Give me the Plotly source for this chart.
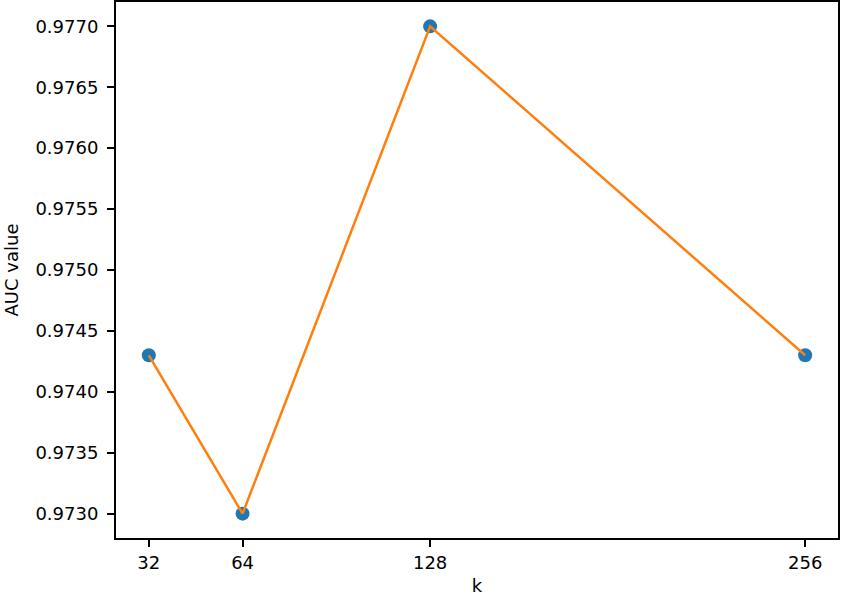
import plotly.graph_objects as go

# k values and AUC results
k_values = [32, 64, 128, 256]
auc_values = [0.9743, 0.9730, 0.9770, 0.9743]
y_ticks = [0.9730, 0.9735, 0.9740, 0.9745, 0.9750, 0.9755, 0.9760, 0.9765, 0.9770]

fig = go.Figure()

# points first, line drawn over them
fig.add_trace(go.Scatter(x=k_values, y=auc_values, mode="markers",
                         marker=dict(color="#1f77b4", size=14), showlegend=False))
fig.add_trace(go.Scatter(x=k_values, y=auc_values, mode="lines",
                         line=dict(color="#ff7f0e", width=2.5), showlegend=False))

axis_style = dict(showline=True, linecolor="black", linewidth=2, mirror=True,
                  ticks="outside", ticklen=7, tickwidth=2, tickcolor="black",
                  showgrid=False, zeroline=False, automargin=False,
                  tickfont=dict(family="DejaVu Sans", size=18, color="black"))

fig.update_xaxes(range=[20.8, 267.2], tickvals=k_values,
                 title=dict(text="k", font=dict(family="DejaVu Sans", size=18, color="black"), standoff=8),
                 **axis_style)
fig.update_yaxes(range=[0.9728, 0.9772], tickvals=y_ticks, tickformat=".4f",
                 ticklabelstandoff=5,
                 title=dict(text="AUC value", font=dict(family="DejaVu Sans", size=18, color="black"), standoff=12),
                 **axis_style)

fig.update_layout(width=841, height=597, plot_bgcolor="white", paper_bgcolor="white",
                  margin=dict(l=116, r=3, t=2, b=59))

# page body has a default margin; drop it so the figure sits at the window corner
fig.write_html("out.html", config={"displayModeBar": False},
               post_script="document.body.style.margin='0';")
